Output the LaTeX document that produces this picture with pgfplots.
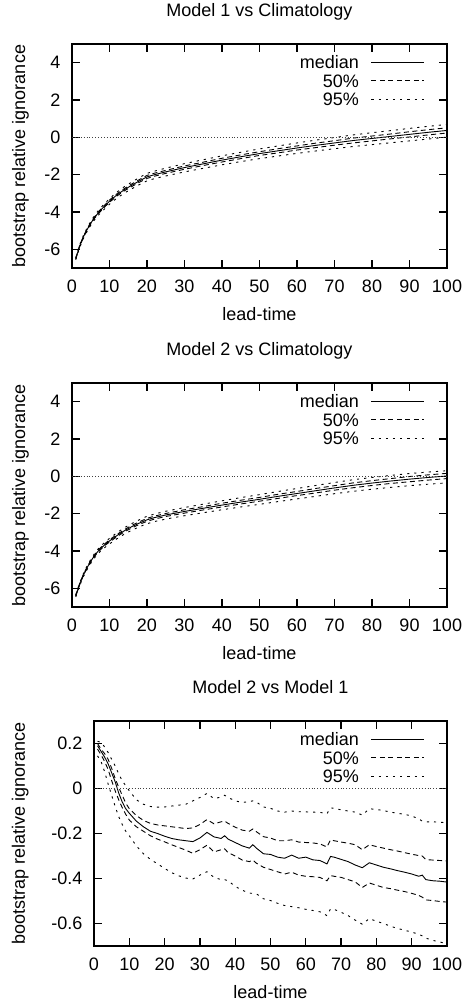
\documentclass[border=0pt]{standalone}
\usepackage{fontspec}
\setmainfont{Liberation Sans}
\usepackage{pgfplots}
\usepackage{pgfplotstable}
\pgfplotsset{compat=1.18}

\newcommand{\fs}{\fontsize{18bp}{21bp}\selectfont}

% x med lo50 hi50 lo95 hi95
\pgfplotstableread{
x med lo50 hi50 lo95 hi95
1 -6.50 -6.52 -6.48 -6.56 -6.45
2 -5.85 -5.88 -5.82 -5.93 -5.78
3 -5.35 -5.38 -5.32 -5.44 -5.27
4 -4.95 -4.99 -4.91 -5.05 -4.86
5 -4.60 -4.64 -4.56 -4.71 -4.50
6 -4.30 -4.34 -4.26 -4.42 -4.19
7 -4.05 -4.10 -4.00 -4.18 -3.93
8 -3.83 -3.88 -3.78 -3.97 -3.70
9 -3.62 -3.67 -3.57 -3.77 -3.49
10 -3.42 -3.48 -3.36 -3.58 -3.28
12 -3.08 -3.14 -3.02 -3.25 -2.93
14 -2.80 -2.86 -2.74 -2.98 -2.64
16 -2.56 -2.63 -2.49 -2.75 -2.39
18 -2.33 -2.40 -2.26 -2.53 -2.15
20 -2.12 -2.20 -2.04 -2.33 -1.93
22 -2.00 -2.08 -1.92 -2.21 -1.81
25 -1.85 -1.93 -1.77 -2.07 -1.65
30 -1.62 -1.71 -1.53 -1.85 -1.41
35 -1.42 -1.51 -1.33 -1.66 -1.20
40 -1.22 -1.32 -1.12 -1.47 -0.99
45 -1.04 -1.14 -0.94 -1.30 -0.80
50 -0.87 -0.97 -0.77 -1.14 -0.62
55 -0.72 -0.83 -0.61 -1.00 -0.46
60 -0.57 -0.68 -0.46 -0.86 -0.30
65 -0.43 -0.55 -0.31 -0.73 -0.15
70 -0.30 -0.42 -0.18 -0.61 -0.01
75 -0.17 -0.30 -0.04 -0.49 0.13
80 -0.06 -0.19 0.07 -0.39 0.25
85 0.05 -0.08 0.18 -0.29 0.36
90 0.16 0.02 0.30 -0.19 0.48
95 0.27 0.13 0.41 -0.09 0.59
100 0.37 0.23 0.51 0.01 0.69
}\modelone

\pgfplotstableread{
x med lo50 hi50 lo95 hi95
1 -6.40 -6.42 -6.38 -6.46 -6.35
2 -5.80 -5.83 -5.77 -5.88 -5.73
3 -5.30 -5.33 -5.27 -5.39 -5.22
4 -4.90 -4.94 -4.86 -5.00 -4.81
5 -4.55 -4.59 -4.51 -4.66 -4.45
6 -4.25 -4.29 -4.21 -4.37 -4.14
7 -4.00 -4.05 -3.95 -4.13 -3.88
8 -3.80 -3.85 -3.75 -3.94 -3.67
9 -3.62 -3.67 -3.57 -3.77 -3.49
10 -3.46 -3.52 -3.40 -3.62 -3.32
12 -3.17 -3.23 -3.11 -3.34 -3.02
14 -2.91 -2.97 -2.85 -3.09 -2.75
16 -2.69 -2.76 -2.62 -2.88 -2.52
18 -2.50 -2.57 -2.43 -2.70 -2.32
20 -2.33 -2.41 -2.25 -2.54 -2.14
22 -2.21 -2.29 -2.13 -2.42 -2.02
25 -2.07 -2.15 -1.99 -2.29 -1.87
30 -1.88 -1.97 -1.79 -2.11 -1.67
35 -1.71 -1.80 -1.62 -1.95 -1.49
40 -1.54 -1.64 -1.44 -1.79 -1.31
45 -1.38 -1.48 -1.28 -1.64 -1.14
50 -1.23 -1.33 -1.13 -1.50 -0.98
55 -1.07 -1.18 -0.96 -1.35 -0.81
60 -0.92 -1.03 -0.81 -1.21 -0.65
65 -0.77 -0.89 -0.65 -1.07 -0.49
70 -0.62 -0.74 -0.50 -0.93 -0.33
75 -0.48 -0.61 -0.35 -0.80 -0.18
80 -0.36 -0.49 -0.23 -0.69 -0.06
85 -0.25 -0.38 -0.12 -0.59 0.05
90 -0.15 -0.29 -0.01 -0.50 0.15
95 -0.06 -0.20 0.08 -0.42 0.23
100 0.02 -0.12 0.16 -0.35 0.30
}\modeltwo

\pgfplotstableread{
x med hi50 lo50 hi95 lo95
1 0.190 0.200 0.175 0.210 0.145
2 0.165 0.175 0.150 0.205 0.120
3 0.140 0.155 0.120 0.185 0.075
4 0.110 0.130 0.085 0.160 0.020
5 0.070 0.090 0.035 0.130 -0.030
6 0.030 0.045 -0.010 0.100 -0.080
7 -0.020 0.005 -0.050 0.065 -0.125
8 -0.060 -0.030 -0.085 0.035 -0.160
9 -0.090 -0.065 -0.115 0.012 -0.190
10 -0.110 -0.090 -0.140 -0.010 -0.210
12 -0.145 -0.120 -0.170 -0.050 -0.255
14 -0.170 -0.142 -0.190 -0.070 -0.290
16 -0.190 -0.155 -0.210 -0.080 -0.315
18 -0.200 -0.162 -0.225 -0.083 -0.335
20 -0.212 -0.166 -0.237 -0.082 -0.355
22 -0.222 -0.170 -0.250 -0.078 -0.374
24 -0.228 -0.174 -0.262 -0.074 -0.388
26 -0.232 -0.178 -0.274 -0.070 -0.398
28 -0.236 -0.175 -0.288 -0.055 -0.402
30 -0.220 -0.160 -0.272 -0.040 -0.385
32 -0.195 -0.138 -0.252 -0.022 -0.370
34 -0.215 -0.157 -0.282 -0.045 -0.395
36 -0.222 -0.148 -0.272 -0.038 -0.405
37 -0.210 -0.145 -0.268 -0.030 -0.405
38 -0.225 -0.155 -0.285 -0.040 -0.410
40 -0.240 -0.172 -0.300 -0.055 -0.435
42 -0.255 -0.185 -0.318 -0.062 -0.452
44 -0.265 -0.190 -0.325 -0.058 -0.465
45 -0.250 -0.180 -0.318 -0.055 -0.466
46 -0.265 -0.192 -0.332 -0.060 -0.468
48 -0.290 -0.214 -0.350 -0.082 -0.490
50 -0.293 -0.220 -0.360 -0.088 -0.498
52 -0.305 -0.232 -0.370 -0.100 -0.510
54 -0.310 -0.232 -0.380 -0.105 -0.520
56 -0.296 -0.228 -0.372 -0.100 -0.525
58 -0.310 -0.238 -0.385 -0.103 -0.530
60 -0.305 -0.240 -0.390 -0.104 -0.537
62 -0.317 -0.242 -0.392 -0.105 -0.542
64 -0.320 -0.246 -0.395 -0.106 -0.548
66 -0.335 -0.260 -0.410 -0.112 -0.565
67 -0.302 -0.228 -0.387 -0.086 -0.535
68 -0.305 -0.232 -0.390 -0.088 -0.537
70 -0.315 -0.238 -0.395 -0.095 -0.550
72 -0.325 -0.243 -0.405 -0.100 -0.565
74 -0.340 -0.250 -0.415 -0.105 -0.585
76 -0.352 -0.272 -0.440 -0.118 -0.603
78 -0.330 -0.250 -0.420 -0.090 -0.578
80 -0.340 -0.258 -0.430 -0.093 -0.590
82 -0.350 -0.265 -0.440 -0.098 -0.600
84 -0.357 -0.272 -0.445 -0.105 -0.612
86 -0.365 -0.278 -0.452 -0.110 -0.622
88 -0.372 -0.285 -0.458 -0.115 -0.630
90 -0.380 -0.292 -0.466 -0.122 -0.638
92 -0.390 -0.298 -0.475 -0.135 -0.648
93 -0.385 -0.300 -0.483 -0.145 -0.655
94 -0.405 -0.316 -0.495 -0.148 -0.665
96 -0.410 -0.318 -0.498 -0.148 -0.675
98 -0.412 -0.320 -0.502 -0.150 -0.682
100 -0.416 -0.322 -0.505 -0.152 -0.690
}\modeldiff

\pgfplotsset{
  gp/.style={
    scale only axis,
    xmin=0, xmax=100,
    xtick={0,10,...,100},
    axis line style={line width=1.3bp},
    every tick/.style={line width=1.3bp, black},
    major tick length=8bp,
    tick align=inside,
    /pgf/number format/assume math mode=true,
    tick label style={font=\fs},
    xticklabel style={anchor=base, yshift=-24.5bp, inner sep=0pt},
    yticklabel style={anchor=east, xshift=-11.5bp, inner sep=0pt},
    title style={font=\fs, at={(rel axis cs:0.5,1)}, anchor=base, yshift=21.5bp, inner sep=0pt},
    xlabel={lead-time},
    ylabel={bootstrap relative ignorance},
    xlabel style={font=\fs, at={(rel axis cs:0.5,0)}, anchor=base, yshift=-52bp, inner sep=0pt},
    legend style={at={(rel axis cs:1,1)}, anchor=north east, xshift=-22bp, yshift=-11.5bp,
      draw=none, fill=none, inner sep=0pt, row sep=5.5bp, column sep=12bp, font=\fs,
      nodes={inner sep=0pt, text height=13bp, text depth=0bp}},
    legend cell align=right,
    legend plot pos=right,
    legend image code/.code={\draw[#1] (0bp,0bp) -- (53bp,0bp);},
  },
  med/.style={black, line width=0.9bp, solid},
  p50/.style={black, line width=0.9bp, dash pattern=on 5bp off 3.5bp},
  p95/.style={black, line width=0.9bp, dash pattern=on 2.2bp off 5bp},
  zero/.style={black!75, line width=0.8bp, dash pattern=on 0.9bp off 2bp},
}

\begin{document}
\begin{tikzpicture}
\useasboundingbox (0,0) rectangle (465bp,-1003bp);

\begin{axis}[gp,
  at={(72bp,-268bp)}, anchor=south west,
  width=375bp, height=224bp,
  ymin=-7, ymax=5, ytick={-6,-4,...,4},
  title={Model 1 vs Climatology},
  ylabel style={font=\fs, at={(rel axis cs:-0.1253,0.5)}, anchor=base, inner sep=0pt},
]
  \addplot[med] table[x=x, y=med] {\modelone};
  \addlegendentry{median}
  \addplot[p50] table[x=x, y=hi50] {\modelone};
  \addlegendentry{50\%}
  \addplot[p50, forget plot] table[x=x, y=lo50] {\modelone};
  \addplot[p95] table[x=x, y=hi95] {\modelone};
  \addlegendentry{95\%}
  \addplot[p95, forget plot] table[x=x, y=lo95] {\modelone};
  \addplot[zero, forget plot] coordinates {(0,0) (100,0)};
\end{axis}

\begin{axis}[gp,
  at={(72bp,-607bp)}, anchor=south west,
  width=375bp, height=224bp,
  ymin=-7, ymax=5, ytick={-6,-4,...,4},
  title={Model 2 vs Climatology},
  ylabel style={font=\fs, at={(rel axis cs:-0.1253,0.5)}, anchor=base, inner sep=0pt},
]
  \addplot[med] table[x=x, y=med] {\modeltwo};
  \addlegendentry{median}
  \addplot[p50] table[x=x, y=hi50] {\modeltwo};
  \addlegendentry{50\%}
  \addplot[p50, forget plot] table[x=x, y=lo50] {\modeltwo};
  \addplot[p95] table[x=x, y=hi95] {\modeltwo};
  \addlegendentry{95\%}
  \addplot[p95, forget plot] table[x=x, y=lo95] {\modeltwo};
  \addplot[zero, forget plot] coordinates {(0,0) (100,0)};
\end{axis}

\begin{axis}[gp,
  at={(94bp,-946bp)}, anchor=south west,
  width=353bp, height=225bp,
  ymin=-0.7, ymax=0.3, ytick={-0.6,-0.4,-0.2,0,0.2},
  title={Model 2 vs Model 1},
  ylabel style={font=\fs, at={(rel axis cs:-0.1955,0.5)}, anchor=base, inner sep=0pt},
]
  \addplot[med] table[x=x, y=med] {\modeldiff};
  \addlegendentry{median}
  \addplot[p50] table[x=x, y=hi50] {\modeldiff};
  \addlegendentry{50\%}
  \addplot[p50, forget plot] table[x=x, y=lo50] {\modeldiff};
  \addplot[p95] table[x=x, y=hi95] {\modeldiff};
  \addlegendentry{95\%}
  \addplot[p95, forget plot] table[x=x, y=lo95] {\modeldiff};
  \addplot[zero, forget plot] coordinates {(0,0) (100,0)};
\end{axis}
\end{tikzpicture}
\end{document}
